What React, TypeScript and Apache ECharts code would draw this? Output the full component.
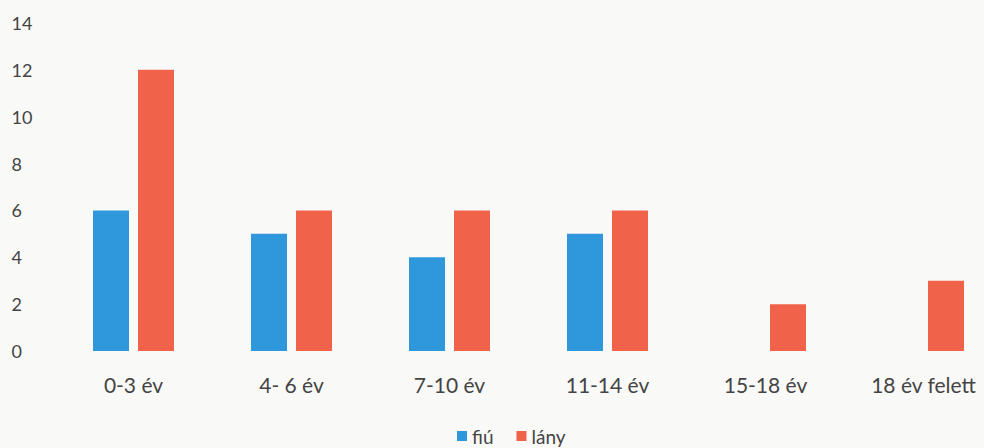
import React, { useEffect, useRef } from "react";
import * as echarts from "echarts";

const categories = ["0-3 év", "4- 6 év", "7-10 év", "11-14 év", "15-18 év", "18 év felett"];
const fiuValues = [6, 5, 4, 5, null, null];
const lanyValues = [12, 6, 6, 6, 2, 3];
const yTicks = { min: 0, max: 14, interval: 2 };

export default function App() {
  const ref = useRef<HTMLDivElement>(null);
  useEffect(() => {
    if (!ref.current) return;
    const chart = echarts.init(ref.current, null, { renderer: "svg" });
    const font = "Lato, 'Open Sans', sans-serif";
    chart.setOption({
      animation: false,
      backgroundColor: "#f9f9f7",
      textStyle: { fontFamily: font },
      grid: { left: 54.5, top: 23, bottom: 97, width: 948, outerBoundsMode: "none", containLabel: false },
      legend: {
        left: 457,
        top: 426,
        padding: 0,
        itemWidth: 10,
        itemHeight: 10,
        itemGap: 23,
        icon: "rect",
        textStyle: { fontSize: 19, lineHeight: 20, color: "#444444", fontFamily: font },
        data: ["fiú", "lány"],
      },
      xAxis: {
        type: "category",
        data: categories,
        axisLine: { show: false },
        axisTick: { show: false },
        axisLabel: { fontSize: 21, color: "#444444", margin: 23, fontFamily: font },
      },
      yAxis: {
        type: "value",
        min: yTicks.min,
        max: yTicks.max,
        interval: yTicks.interval,
        splitLine: { show: false },
        axisLine: { show: false },
        axisTick: { show: false },
        axisLabel: { fontSize: 18, color: "#444444", align: "left", margin: 43, fontFamily: font },
      },
      series: [
        {
          name: "fiú",
          type: "bar",
          data: fiuValues,
          barWidth: 36,
          barGap: "25%",
          itemStyle: { color: "#2f97db" },
        },
        {
          name: "lány",
          type: "bar",
          data: lanyValues,
          barWidth: 36,
          barGap: "25%",
          itemStyle: { color: "#f0634a" },
        },
      ],
    });
    return () => chart.dispose();
  }, []);
  return (
    <div
      ref={ref}
      style={{ position: "fixed", left: 0, top: 0, width: 984, height: 448 }}
    />
  );
}
